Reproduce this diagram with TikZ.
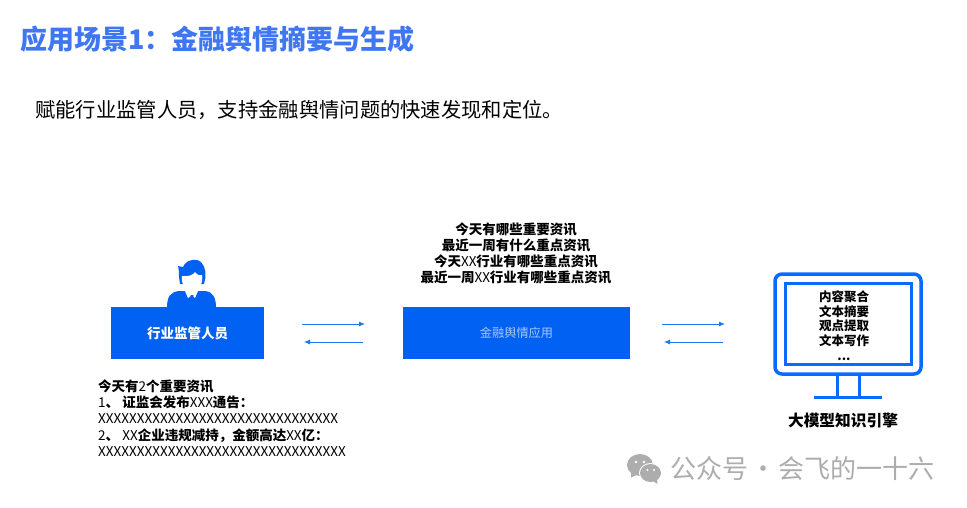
\documentclass[tikz,border=0pt]{standalone}
\usepackage{fontspec}
\setmainfont{Noto Sans CJK SC}
\newcommand{\lat}[1]{{\mdseries #1}}
\newcommand{\fwcomma}{\char"FF0C\relax}
\newcommand{\fwcolon}{\char"FF1A\relax}
\usetikzlibrary{arrows.meta}
\definecolor{mainblue}{HTML}{0061F2}
\definecolor{titleblue}{HTML}{3F77F2}
\definecolor{arrowblue}{HTML}{1F78EE}
\definecolor{screenblue}{HTML}{0A6CFF}
\definecolor{wmgray}{HTML}{ADADAD}
\tikzset{
  box/.style={fill=mainblue,draw=none,minimum height=52pt,inner sep=0pt},
  flow/.style={draw=arrowblue,line width=0.8pt,-{Latex[length=6pt,width=5pt]}},
  stack/.style={align=center,font=\fontsize{13.5}{16}\selectfont\bfseries,text=black,inner sep=0pt},
  leftstack/.style={align=left,font=\fontsize{13.5}{16.25}\selectfont\bfseries,text=black,inner sep=0pt,anchor=north west},
  scr/.style={draw=screenblue,line width=3pt},
  wm/.style={text=wmgray,inner sep=0pt,font=\fontsize{26}{28}\selectfont}
}
\begin{document}
\begin{tikzpicture}[x=1pt,y=-1pt]
\useasboundingbox (0,0) rectangle (967,507);
\fill[white] (0,0) rectangle (967,507);
\node[anchor=west,inner sep=0pt,text=titleblue,font=\fontsize{27}{30}\selectfont\bfseries] (title) at (20,39) {应用场景1\fwcolon 金融舆情摘要与生成};
\node[anchor=west,inner sep=0pt,text=black,font=\fontsize{20.3}{24}\selectfont] (sub) at (35,110) {赋能行业监管人员\fwcomma 支持金融舆情问题的快速发现和定位。};

% person
\fill[mainblue] (167,308) .. controls (167,297) and (170,292) .. (179,291) -- (205,291) .. controls (213,292) and (216,297) .. (216,308) -- cycle;
\fill[white] (185,291) -- (198,291) -- (195,298) -- (192,295) -- (188,298) -- cycle;
\fill[mainblue] (190.5,295) -- (193.5,295) -- (193,298) -- (195,304) -- (192,307) -- (189,304) -- (191,298) -- cycle;
\fill[mainblue] (178,266) -- (183,267) .. controls (185,262) and (190,259) .. (197,260) .. controls (204,262) and (206,270) .. (205.5,277) -- (204,284) -- (180,284) -- (179,277) .. controls (179,273) and (179,270) .. (178,266) -- cycle;
\fill[white] (182,276) .. controls (188,277) and (193,275) .. (195,272) .. controls (197,275) and (200,276) .. (202,275) .. controls (203.5,283) and (199,291) .. (192,291) .. controls (185,291) and (180.5,283) .. (182,276) -- cycle;

\node[box,minimum width=153pt,text=white,font=\fontsize{13.5}{16}\selectfont\bfseries] (user) at (187.5,333) {行业监管人员};
\node[box,minimum width=227pt,text=white!65!mainblue,font=\fontsize{12.2}{16}\selectfont] (app) at (516.5,333) {金融舆情应用};

\node[stack] (q) at (516,253.5) {今天有哪些重要资讯\\最近一周有什么重点资讯\\今天\lat{XX}行业有哪些重点资讯\\最近一周\lat{XX}行业有哪些重点资讯};
\node[leftstack] (a) at (98,379.5) {今天有\lat{2}个重要资讯\\\lat{1}、 证监会发布\lat{XXX}通告\fwcolon\\\lat{XXXXXXXXXXXXXXXXXXXXXXXXXXXXXXX}\\\lat{2}、 \lat{XX}企业违规减持\fwcomma 金额高达\lat{XX}亿\fwcolon\\\lat{XXXXXXXXXXXXXXXXXXXXXXXXXXXXXXXX}};

\coordinate (u1) at (302,324); \coordinate (u2) at (365,324);
\coordinate (u3) at (363,342); \coordinate (u4) at (304,342);
\coordinate (v1) at (662,324); \coordinate (v2) at (725,324);
\coordinate (v3) at (723,342); \coordinate (v4) at (664,342);
\draw[flow] (u1) -- (u2);
\draw[flow] (u3) -- (u4);
\draw[flow] (v1) -- (v2);
\draw[flow] (v3) -- (v4);

% monitor
\draw[scr,line width=3.5pt,rounded corners=7pt] (775,274) rectangle (921,374);
\draw[scr] (785,283) rectangle (911,364);
\draw[scr] (837,375) -- (837,397);
\draw[scr] (859,375) -- (859,397);
\draw[scr] (814,397) -- (882,397);
\node[stack,font=\fontsize{12.5}{14.6}\selectfont\bfseries] (m) at (844,325.5) {内容聚合\\文本摘要\\观点提取\\文本写作\\...};
\node[inner sep=0pt,font=\fontsize{15.7}{18}\selectfont\bfseries] (eng) at (843,421) {大模型知识引擎};

% watermark
\fill[wmgray] (640,465) ellipse (13pt and 11pt);
\fill[wmgray] (631,472) -- (631,477.5) -- (636,475) -- cycle;
\fill[white] (650.5,473) ellipse (11.5pt and 10pt);
\fill[wmgray] (650.5,473) ellipse (10.5pt and 9pt);
\fill[wmgray] (653,481) -- (657.5,484) -- (657,478) -- cycle;
\fill[white] (636,462) circle (1.4pt) (644,462) circle (1.4pt) (647.5,470) circle (1.2pt) (654,470) circle (1.2pt);
\node[wm,anchor=west] (wmt) at (670,469) {公众号\hspace{2pt}·\hspace{2pt}会飞的一十六};
\end{tikzpicture}
\end{document}
